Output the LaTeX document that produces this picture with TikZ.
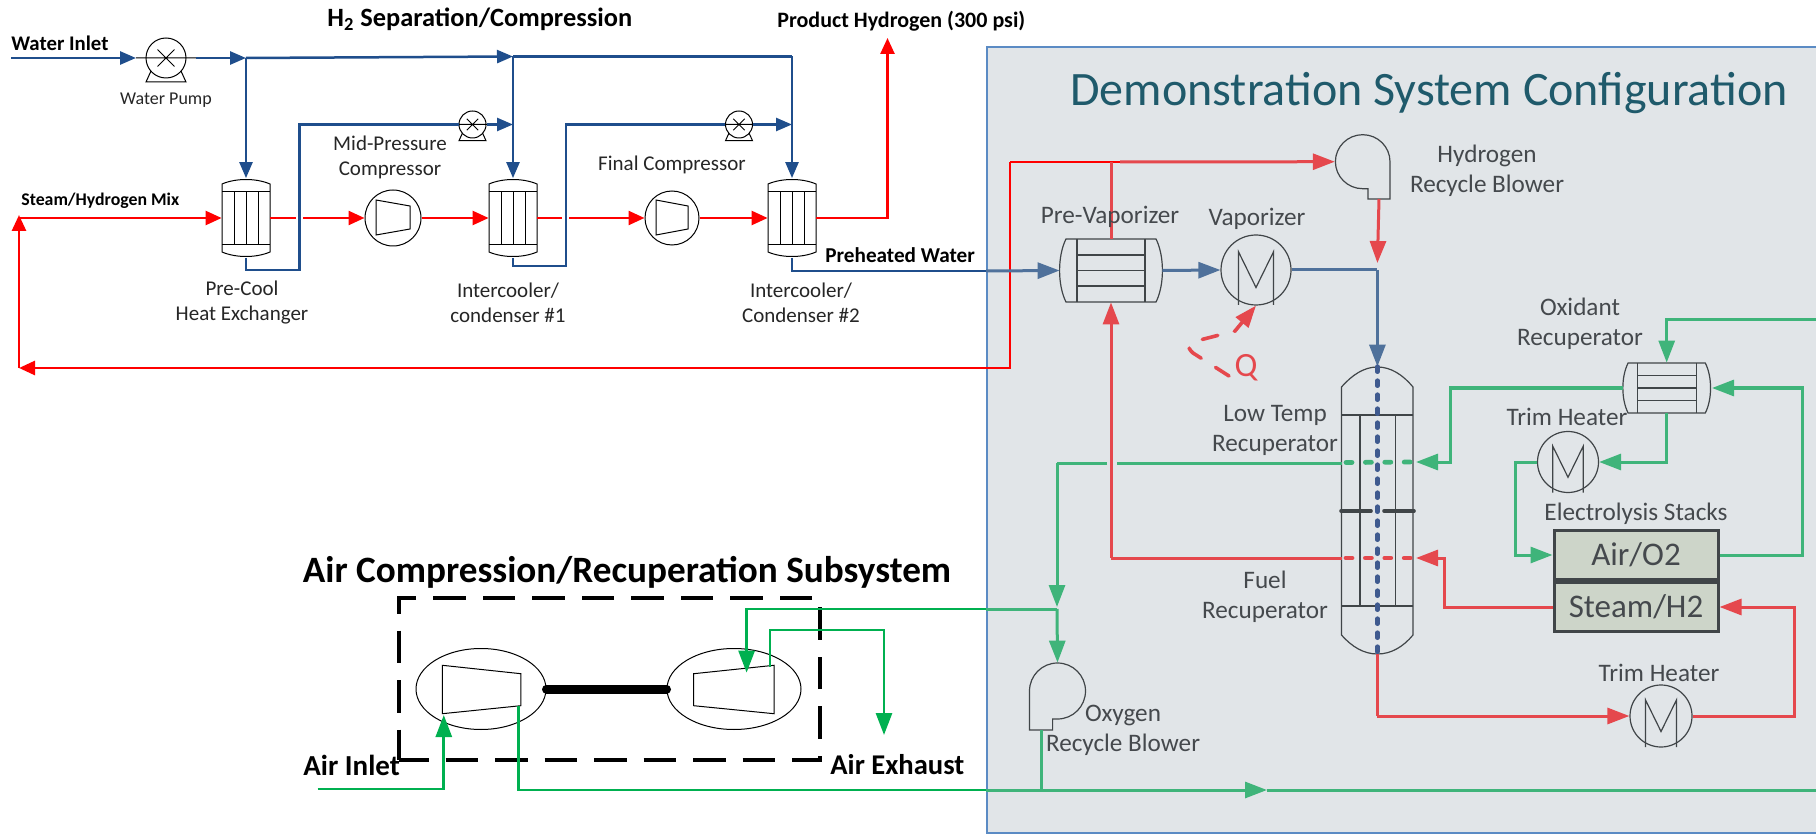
\documentclass[tikz,border=0pt]{standalone}
\usepackage{fontspec}
\setmainfont{Carlito}
\usetikzlibrary{arrows.meta,shapes.geometric}
\definecolor{lblue}{HTML}{1F4E8C}
\definecolor{lred}{HTML}{FF0000}
\definecolor{rblue}{HTML}{4F719B}
\definecolor{rred}{HTML}{E5484D}
\definecolor{rgreen}{HTML}{3FB47A}
\definecolor{bgreen}{HTML}{00B050}
\definecolor{dark}{HTML}{404548}
\definecolor{navyd}{HTML}{3F5A8F}
\definecolor{sysfill}{HTML}{E1E5E8}
\definecolor{sysline}{HTML}{5B8BC4}
\definecolor{titlec}{HTML}{1F5A6B}
\definecolor{stackfill}{HTML}{CDD5C9}
\definecolor{rtext}{HTML}{45494D}
\tikzset{
  x=0.5pt,y=-0.5pt,
  lefteq/.style={draw=black,line width=0.5pt},
  righteq/.style={draw=dark,line width=0.6pt},
  ublue/.style={draw=lblue,line width=1.25pt,line join=miter,-{Triangle[length=8pt,width=6.5pt,fill=lblue]}},
  ublueplain/.style={draw=lblue,line width=1.25pt},
  ured/.style={draw=lred,line width=1.25pt,-{Triangle[length=8pt,width=7pt,fill=lred]}},
  uredplain/.style={draw=lred,line width=1.25pt},
  vblue/.style={draw=rblue,line width=1.5pt,-{Triangle[length=11pt,width=8pt,fill=rblue]}},
  vblueplain/.style={draw=rblue,line width=1.5pt},
  vred/.style={draw=rred,line width=1.5pt,-{Triangle[length=11pt,width=8pt,fill=rred]}},
  vredplain/.style={draw=rred,line width=1.5pt},
  vgreen/.style={draw=rgreen,line width=1.5pt,-{Triangle[length=11pt,width=8pt,fill=rgreen]}},
  vgreenplain/.style={draw=rgreen,line width=1.5pt},
  wgreen/.style={draw=bgreen,line width=1.4pt,-{Triangle[length=11pt,width=8pt,fill=bgreen]}},
  wgreenplain/.style={draw=bgreen,line width=1.4pt},
  lbl/.style={font=\fontsize{10.5}{12.5}\selectfont,align=center,inner sep=0pt,text=black!85},
  rlbl/.style={font=\fontsize{12.6}{15}\selectfont,align=center,inner sep=0pt,text=rtext},
  boldlbl/.style={font=\bfseries,inner sep=0pt,text=black},
  pumpc/.style={circle,draw=black,line width=0.5pt,inner sep=0pt},
  heatc/.style={circle,draw=dark,line width=0.6pt,inner sep=0pt},
  stackbox/.style={rectangle,draw=dark,line width=1.5pt,fill=stackfill,minimum width=82pt,minimum height=24.5pt,inner sep=0pt,text=rtext,font=\fontsize{16.5}{18}\selectfont},
  anchorbox/.style={rectangle,inner sep=0pt,draw=none}
}
% vertical shell-and-tube exchanger, left side
\newcommand{\hxv}[3]{%
  \node[anchorbox,minimum width=24pt,minimum height=39.5pt] (#1) at (#2,#3) {};
  \begin{scope}[shift={(#2,#3)}]
    \draw[lefteq] (-24,-34) .. controls (-10,-40) and (10,-40) .. (24,-34) -- (24,34) .. controls (10,40) and (-10,40) .. (-24,34) -- cycle;
    \draw[lefteq] (-24,-26.5) -- (24,-26.5) (-24,26.5) -- (24,26.5);
    \draw[lefteq] (-12,-26.5) -- (-12,26.5) (0,-26.5) -- (0,26.5) (12,-26.5) -- (12,26.5);
  \end{scope}}
% pump symbol
\newcommand{\pumpsym}[4]{%
  \node[pumpc,minimum size={#4*1pt}] (#1) at (#2,#3) {};
  \begin{scope}[shift={(#2,#3)}]
    \draw[lefteq] ({-#4*1.5},0) -- ({#4*1.5},0)
      ({-#4*0.42},{-#4*0.42}) -- ({#4*0.42},{#4*0.42})
      ({-#4*0.42},{#4*0.42}) -- ({#4*0.42},{-#4*0.42});
    \draw[lefteq] ({-#4*0.75},{#4*0.65}) -- ({-#4},{#4*1.2}) -- ({#4},{#4*1.2}) -- ({#4*0.75},{#4*0.65});
  \end{scope}}
% heater symbol
\newcommand{\heatersym}[4]{%
  \node[heatc,minimum size={#4*1pt}] (#1) at (#2,#3) {};
  \begin{scope}[shift={(#2,#3)}]
    \draw[righteq,line join=miter] ({-#4*0.5},{#4}) -- ({-#4*0.5},{-#4*0.52}) -- (0,{#4*0.5}) -- ({#4*0.5},{-#4*0.52}) -- ({#4*0.5},{#4});
  \end{scope}}
% horizontal shell-and-tube exchanger
\newcommand{\hxh}[7]{% name cx cy halfw halfh inner-x rows-step
  \node[anchorbox,minimum width={#4*1pt},minimum height={#5*1pt}] (#1) at (#2,#3) {};
  \begin{scope}[shift={(#2,#3)}]
    \draw[righteq] ({-#4+#6*0.35},-#5) -- ({#4-#6*0.35},-#5) .. controls ({#4+#6*0.15},{-#5*0.45}) and ({#4+#6*0.15},{#5*0.45}) .. ({#4-#6*0.35},#5) -- ({-#4+#6*0.35},#5) .. controls ({-#4-#6*0.15},{#5*0.45}) and ({-#4-#6*0.15},{-#5*0.45}) .. ({-#4+#6*0.35},-#5) -- cycle;
    \draw[righteq] ({-#4+#6},-#5) -- ({-#4+#6},#5) ({#4-#6},-#5) -- ({#4-#6},#5);
    \draw[righteq] ({-#4+#6},-#7) -- ({#4-#6},-#7) ({-#4+#6},0) -- ({#4-#6},0) ({-#4+#6},#7) -- ({#4-#6},#7);
  \end{scope}}
\begin{document}
\begin{tikzpicture}
\useasboundingbox (0,0) rectangle (1816,834);
\fill[white] (0,0) rectangle (1816,834);
% system box
\draw[draw=sysline,fill=sysfill,line width=1pt] (986.5,47.5) -- (1817,47.5) -- (1817,832.5) -- (986.5,832.5) -- cycle;
\node[inner sep=0pt,anchor=west,text=titlec,font=\fontsize{24}{28}\selectfont] (title) at (1070,93) {Demonstration System Configuration};

% ---------- equipment, left
\pumpsym{pumpa}{166}{58}{20}
\pumpsym{pumpb}{472.5}{124.5}{13.5}
\pumpsym{pumpd}{739}{124.5}{13.5}
\hxv{hxa}{246}{218}
\hxv{hxb}{513}{218}
\hxv{hxc}{792}{218}
\node[pumpc,minimum size=28pt] (compa) at (393,218) {};
\node[pumpc,minimum size=27pt] (compb) at (672,218) {};
\draw[lefteq] (376,200) -- (410,206) -- (410,229) -- (376,235) -- cycle;
\draw[lefteq] (656,200) -- (688,206) -- (688,229) -- (656,235) -- cycle;

% junction coordinates
\coordinate (wj) at (246,58);
\coordinate (wt) at (513,56.5);
\coordinate (wr) at (792,56.5);
\coordinate (bm) at (513,124.5);
\coordinate (bn) at (792,124.5);
\coordinate (b1a) at (246,270);
\coordinate (b1b) at (299.5,270);
\coordinate (b1c) at (299.5,124.5);
\coordinate (b2a) at (513,266);
\coordinate (b2b) at (566,266);
\coordinate (b2c) at (566,124.5);
\coordinate (b3a) at (792,271);
\coordinate (b3b) at (986,271);
\coordinate (winlet) at (11,58);
\coordinate (pain) at (136,58);
\coordinate (paout) at (196,58);

% left blue
\draw[ublue,line width=1.4pt] (winlet) -- (pain);
\draw[ublue,line width=1.4pt] (paout) -- (wj);
\draw[ublue] (wj) -- (hxa.north);
\draw[ublue] (wj) -- (wt);
\draw[ublueplain] (wt) -- (wr);
\draw[ublue] (wt) -- (hxb.north);
\draw[ublue] (wr) -- (hxc.north);
\draw[ublueplain] (hxa.south) -- (b1a) -- (b1b) -- (b1c) -- (pumpb.west);
\draw[ublue] (pumpb.east) -- (bm);
\draw[ublueplain] (hxb.south) -- (b2a) -- (b2b) -- (b2c) -- (pumpd.west);
\draw[ublue] (pumpd.east) -- (bn);
\draw[ublueplain] (hxc.south) -- (b3a) -- (b3b);

% left red
\coordinate (rstart) at (19,218);
\coordinate (rc) at (19,368);
\coordinate (rd) at (1010,368);
\coordinate (re) at (1010,162);
\coordinate (rf) at (1120,162);
\coordinate (r1a) at (296,218);
\coordinate (r1b) at (303,218);
\coordinate (r2a) at (562,218);
\coordinate (r2b) at (569,218);
\coordinate (rp1) at (887.5,218);
\coordinate (rp2) at (887.5,38);
\draw[ured] (rstart) -- (hxa.west);
\draw[uredplain] (hxa.east) -- (r1a);
\draw[ured] (r1b) -- (compa.west);
\draw[ured] (compa.east) -- (hxb.west);
\draw[uredplain] (hxb.east) -- (r2a);
\draw[ured] (r2b) -- (compb.west);
\draw[ured] (compb.east) -- (hxc.west);
\draw[ured] (hxc.east) -- (rp1) -- (rp2);
\draw[ured,line width=1.4pt] (re) -- (rd) -- (rc);
\draw[ured,line width=1.4pt] (rc) -- (19,215);
\draw[uredplain,line width=1.4pt] (re) -- (rf);

% ---------- equipment, right
\hxh{prev}{1111}{270.5}{51}{31.5}{17}{15.5}
\heatersym{vap}{1256}{270}{35}
\heatersym{trima}{1568}{462}{30.5}
\heatersym{trimb}{1661}{716}{31}
\hxh{oxr}{1666.7}{388}{43.5}{25}{14}{12.5}
\node[anchorbox,minimum width=36pt,minimum height=143.5pt] (col) at (1377.4,510.5) {};
\draw[righteq] (1341.5,387) .. controls (1352,375) and (1364,367) .. (1377.4,367) .. controls (1391,367) and (1403,375) .. (1413,387) -- (1413,635) .. controls (1403,647) and (1391,654) .. (1377.4,654) .. controls (1364,654) and (1352,647) .. (1341.5,635) -- cycle;
\draw[righteq] (1341.5,415) -- (1413,415) (1341.5,606) -- (1413,606) (1360,415) -- (1360,606) (1395.5,415) -- (1395.5,606);
\draw[draw=dark,line width=1.8pt,line cap=round] (1341,511) -- (1371,511) (1384,511) -- (1414,511);
\node[stackbox] (air) at (1636,555) {Air/O2};
\node[stackbox] (steam) at (1636,607) {Steam/H2};
% blowers
\node[anchorbox,minimum width=27.5pt,minimum height=27pt] (hblow) at (1362.7,161.7) {};
\draw[righteq] (1390,161.7) arc[start angle=0,end angle=-270,x radius=27.3,y radius=27] -- (1368,188.7) -- (1368,199) -- (1390,199) -- cycle;
\node[anchorbox,minimum width=28pt,minimum height=28pt] (oblow) at (1057.5,691) {};
\draw[righteq] (1029.5,691) arc[start angle=180,end angle=450,x radius=28,y radius=28] -- (1052.6,719) -- (1052.6,730) -- (1029.5,730) -- cycle;
\coordinate (hout) at (1379,199);
\coordinate (oout) at (1041,730);

% right lines
\coordinate (bend) at (1377.4,270);
\draw[vblue] (b3b) -- (prev.west);
\draw[vblue] (prev.east) -- (vap.west);
\draw[vblueplain] (vap.east) -- (bend);
\draw[vblue] (bend) -- (col.north);
\draw[vred] (hout) -- (1377.4,263);
\coordinate (pvtop) at (1111,162);
\draw[vredplain] (prev.north) -- (pvtop);
\draw[vred] (1120,162) -- (hblow.west);
\coordinate (fr) at (1111,558);
\draw[vred] (fr) -- (prev.south);
\draw[vredplain] (1341.5,558) -- (fr);
\draw[vredplain] (col.south) -- (1377.4,716) coordinate (ra);
\draw[vred] (ra) -- (trimb.west);
\coordinate (rb) at (1794,716);
\coordinate (rcc) at (1794,607);
\draw[vred] (trimb.east) -- (rb) -- (rcc) -- (steam.east);
\coordinate (rr1) at (1444.4,607);
\coordinate (rr2) at (1444.4,558);
\draw[vred] (steam.west) -- (rr1) -- (rr2) -- (1416,558);
\draw[draw=rred,line width=2.4pt,line cap=round,dash pattern=on 3pt off 6.7pt] (1346,558) -- (1413,558);
% green, right
\coordinate (gt) at (1816,320);
\coordinate (gta) at (1666.7,320);
\draw[vgreen] (gt) -- (gta) -- (oxr.north);
\coordinate (gb) at (1666.7,462);
\draw[vgreen] (oxr.south) -- (gb) -- (trima.east);
\coordinate (gc) at (1450.4,388);
\coordinate (gd) at (1450.4,462);
\draw[vgreen] (oxr.west) -- (gc) -- (gd) -- (1416,462);
\draw[draw=rgreen,line width=2.4pt,line cap=round,dash pattern=on 3pt off 6.7pt] (1346,462.5) -- (1413,462);
\coordinate (ge) at (1515,462);
\coordinate (gf) at (1515,555);
\draw[vgreen] (trima.west) -- (ge) -- (gf) -- (air.west);
\coordinate (gg) at (1802.6,555);
\coordinate (gh) at (1802.6,388);
\draw[vgreen] (air.east) -- (gg) -- (gh) -- (1712,388);
\coordinate (gi) at (1057,463);
\draw[vgreenplain] (1341.5,463) -- (1117,463);
\draw[vgreenplain] (1107,463) -- (gi);
\coordinate (gj) at (1057,609);
\draw[vgreen] (gi) -- (1057,607);
\draw[vgreen] (gj) -- (oblow.north);
\draw[draw=navyd,line width=2.2pt,line cap=round,dash pattern=on 2.6pt off 4.4pt] (col.north) -- (col.south);
% dashed Q
\draw[draw=rred,line width=1.8pt,line cap=round,dash pattern=on 8pt off 8.5pt,-{Triangle[length=11pt,width=8pt,fill=rred,line cap=butt]}] (1229,376) -- (1193,353) .. controls (1185,346) and (1190,343) .. (1200,340) -- (1235,331) -- (vap.south);
\node[inner sep=0pt,text=rred,font=\fontsize{17}{20}\selectfont] (qlab) at (1246,368) {Q};

% ---------- air compression
\draw[draw=black,line width=1.9pt,dash pattern=on 16.25pt off 8.5pt,dash phase=1.5pt] (399,760) -- (820,760) -- (820,598) -- (399,598) -- cycle;
\node[pumpc,ellipse,minimum width=65pt,minimum height=40.5pt] (turba) at (481,689) {};
\node[pumpc,ellipse,minimum width=67pt,minimum height=40.5pt] (turbb) at (734,689) {};
\draw[lefteq] (442.3,665.3) -- (520.8,673.7) -- (520.8,705.7) -- (442.3,713.7) -- cycle;
\draw[lefteq] (693.7,673.7) -- (774,665.3) -- (774,713.7) -- (693.7,705.7) -- cycle;
\draw[draw=black,line width=4.5pt,line cap=round] (turba.east) -- (turbb.west);
\coordinate (ain) at (317.5,789);
\coordinate (ainb) at (443.8,789);
\draw[wgreen] (ain) -- (ainb) -- (443.8,715);
\coordinate (aout) at (518.5,705.7);
\coordinate (aoutb) at (518.5,790);
\coordinate (aoutc) at (986,790);
\draw[wgreenplain] (aout) -- (aoutb) -- (aoutc);
\coordinate (oline) at (1267,790);
\draw[vgreen] (aoutc) -- (oline);
\draw[vgreenplain] (oline) -- (1816,790);
\draw[vgreenplain] (oout) -- (1041,790);
\coordinate (t1) at (746.6,609);
\coordinate (t1b) at (986,609);
\draw[vgreenplain] (t1b) -- (gj);
\draw[wgreen] (t1b) -- (t1) -- (746.6,672.7);
\coordinate (x1) at (770,667);
\coordinate (x2) at (770,630);
\coordinate (x3) at (884,630);
\draw[wgreen] (x1) -- (x2) -- (x3) -- (884,735);

% ---------- labels, left
\node[boldlbl,anchor=west,font=\fontsize{10.4}{12}\bfseries] (lwater) at (11,43) {Water Inlet};
\node[boldlbl,anchor=west,font=\fontsize{13.2}{15}\bfseries] (lh2) at (327,19) {H\textsubscript{2} Separation/Compression};
\node[boldlbl,anchor=west,font=\fontsize{11}{13}\bfseries] (lprod) at (777,21) {Product Hydrogen (300 psi)};
\node[boldlbl,anchor=west,font=\fontsize{8.9}{10}\bfseries] (lsteam) at (21,201) {Steam/Hydrogen Mix};
\node[boldlbl,anchor=west,font=\fontsize{10.6}{12}\bfseries] (lpre) at (825,255) {Preheated Water};
\node[lbl,font=\fontsize{9}{10}\selectfont] (lpump) at (166,100) {Water Pump};
\node[lbl] (lprecool) at (242,302.5) {Pre-Cool\\Heat Exchanger};
\node[lbl] (lmid) at (390,157) {Mid-Pressure\\Compressor};
\node[lbl] (licc) at (508,303) {Intercooler/\\condenser \#1};
\node[lbl] (lfinal) at (672,165) {Final Compressor};
\node[lbl] (licd) at (801,303) {Intercooler/\\Condenser \#2};
% labels, right
\node[rlbl] (lprev) at (1110,217) {Pre-Vaporizer};
\node[rlbl] (lvap) at (1257,219) {Vaporizer};
\node[rlbl] (lhb) at (1487,171) {Hydrogen\\Recycle Blower};
\node[rlbl] (llt) at (1275,430) {Low Temp\\Recuperator};
\node[rlbl] (lfuel) at (1265,597) {Fuel\\Recuperator};
\node[rlbl] (lox) at (1580,324) {Oxidant\\Recuperator};
\node[rlbl] (ltha) at (1567,417) {Trim Heater};
\node[rlbl] (lstack) at (1636,514) {Electrolysis Stacks};
\node[rlbl] (lthb) at (1659,673) {Trim Heater};
\node[rlbl] (loxy) at (1123,730.5) {Oxygen\\Recycle Blower};
% labels, air
\node[boldlbl,font=\fontsize{18.6}{22}\bfseries] (lacs) at (627,572) {Air Compression/Recuperation Subsystem};
\node[boldlbl,anchor=west,font=\fontsize{14.5}{17}\bfseries] (lai) at (303,765) {Air Inlet};
\node[boldlbl,anchor=west,font=\fontsize{14.3}{17}\bfseries] (lae) at (830,765) {Air Exhaust};
\end{tikzpicture}
\end{document}
